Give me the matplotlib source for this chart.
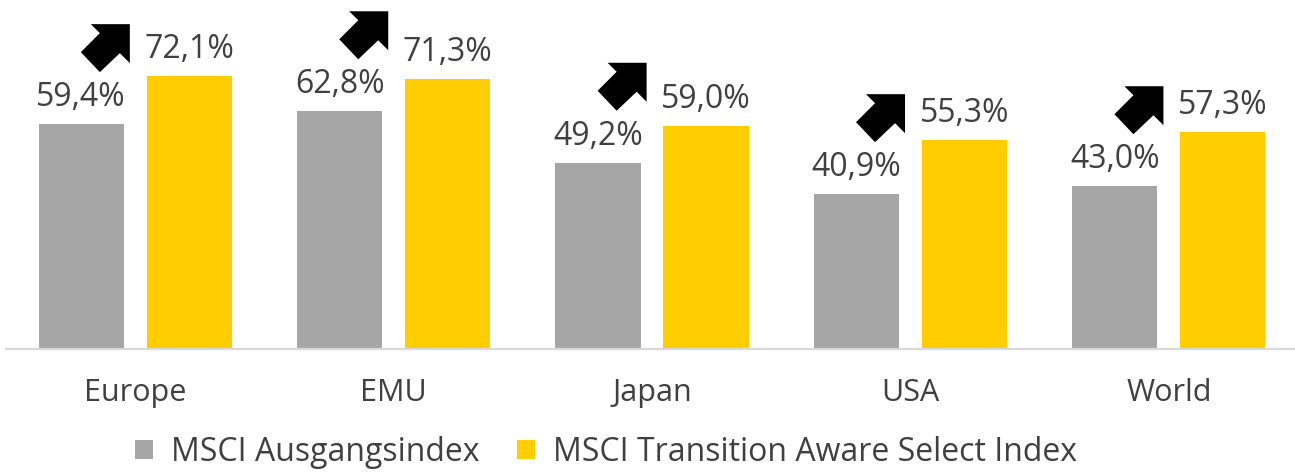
import matplotlib
matplotlib.use("Agg")
import matplotlib.pyplot as plt
import matplotlib.transforms as mtransforms
from matplotlib.patches import Polygon, Patch
import numpy as np

categories = ["Europe", "EMU", "Japan", "USA", "World"]
base_vals = [59.4, 62.8, 49.2, 40.9, 43.0]
select_vals = [72.1, 71.3, 59.0, 55.3, 57.3]
series_names = ["MSCI Ausgangsindex", "MSCI Transition Aware Select Index"]

GRAY = "#A6A6A6"
YELLOW = "#FFCD00"
TXT = "#404040"
FONT = ["Open Sans", "DejaVu Sans"]
plt.rcParams['font.family'] = FONT

W, H, DPI = 1295, 473, 100
fig = plt.figure(figsize=(W / DPI, H / DPI), dpi=DPI)
ax = fig.add_axes([6 / W, (H - 349) / H, 1292 / W, 349 / H])

x = np.arange(len(categories))
bw = 0.33
off = 0.209
ax.bar(x - off, base_vals, bw, color=GRAY, zorder=2)
ax.bar(x + off, select_vals, bw, color=YELLOW, zorder=2)

ax.set_xlim(-0.5, len(categories) - 0.5)
ax.set_ylim(0, 92.2)
for s in ["top", "right", "left"]:
    ax.spines[s].set_visible(False)
ax.spines["bottom"].set_color("#D9D9D9")
ax.spines["bottom"].set_linewidth(1.6)
ax.set_yticks([])
ax.set_xticks([])

def fmt(v):
    return f"{v:.1f}".replace(".", ",") + "%"

for xi, v in zip(x - off, base_vals):
    ax.annotate(fmt(v), (xi, v), xytext=(0, 13), textcoords="offset points",
                ha="center", va="baseline", fontsize=23, color=TXT)
for xi, v in zip(x + off, select_vals):
    ax.annotate(fmt(v), (xi, v), xytext=(0, 13), textcoords="offset points",
                ha="center", va="baseline", fontsize=23, color=TXT)

# category labels
tr = mtransforms.blended_transform_factory(ax.transData, ax.transAxes)
for xi, c in zip(x, categories):
    ax.annotate(c, (xi, 0), xycoords=tr, xytext=(0, -52 * 0.72), textcoords="offset points",
                ha="center", va="baseline", fontsize=22, color=TXT, annotation_clip=False)

# block arrows (pixel offsets relative to tip)
shape_px = np.array([(0, 0), (-39, 0), (-30, -9), (-49, -28), (-30, -48),
                     (-10, -29), (0, -39)], dtype=float)
for xi, v in zip(x - off + bw / 2, base_vals):
    pts = (shape_px + np.array([6, 100])) / DPI
    t = fig.dpi_scale_trans + mtransforms.ScaledTranslation(xi, v, ax.transData)
    ax.add_patch(Polygon(pts, closed=True, transform=t, facecolor="black",
                         edgecolor="none", zorder=5, clip_on=False))

handles = [Patch(facecolor=GRAY, label=series_names[0]),
           Patch(facecolor=YELLOW, label=series_names[1])]
fig.legend(handles=handles, loc="center", bbox_to_anchor=(606 / W, (H - 452) / H),
           ncol=2, frameon=False, fontsize=23, labelcolor=TXT,
           handlelength=0.55, handleheight=0.55, handletextpad=0.55, columnspacing=1.2)

fig.savefig("out.png", dpi=DPI)
